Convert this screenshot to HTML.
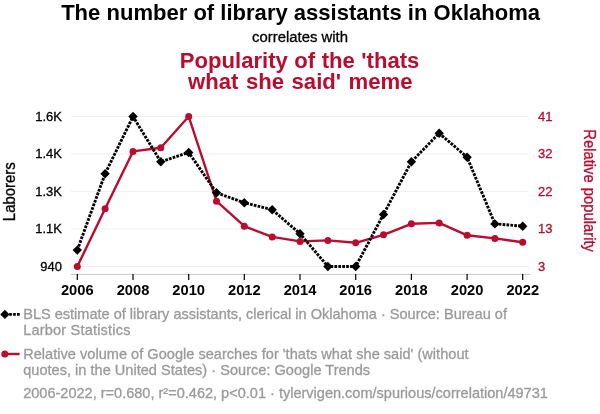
<!DOCTYPE html>
<html><head><meta charset="utf-8"><title>Spurious correlation</title>
<style>
html,body{margin:0;padding:0;background:#fff;}
svg{display:block;font-family:"Liberation Sans",Arial,Helvetica,sans-serif;}
</style></head><body>
<svg width="600" height="414" viewBox="0 0 600 414">
<rect width="600" height="414" fill="#fff"/>
<text transform="translate(300.60,19.60) scale(1,1.03)" text-anchor="middle" font-size="22.06" font-weight="bold" fill="#000">The number of library assistants in Oklahoma</text>
<text transform="translate(300.00,41.80) scale(1,1.03)" text-anchor="middle" font-size="14.9" fill="#000" stroke="#000" stroke-width="0.3">correlates with</text>
<text transform="translate(299.60,67.60) scale(1,1.03)" text-anchor="middle" font-size="22.1" font-weight="bold" fill="#ba0c2f" word-spacing="0.35">Popularity of the 'thats</text>
<text transform="translate(300.30,89.20) scale(1,1.03)" text-anchor="middle" font-size="22.15" font-weight="bold" fill="#ba0c2f" word-spacing="1.3">what she said' meme</text>
<line x1="71" x2="528" y1="116.5" y2="116.5" stroke="#efefef" stroke-width="1"/>
<line x1="71" x2="528" y1="154" y2="154" stroke="#efefef" stroke-width="1"/>
<line x1="71" x2="528" y1="191.5" y2="191.5" stroke="#efefef" stroke-width="1"/>
<line x1="71" x2="528" y1="229" y2="229" stroke="#efefef" stroke-width="1"/>
<line x1="71" x2="528" y1="266.5" y2="266.5" stroke="#efefef" stroke-width="1"/>
<line x1="70.5" x2="530.5" y1="274.4" y2="274.4" stroke="#c8c8c8" stroke-width="1"/>
<line x1="77.3" x2="77.3" y1="274" y2="280" stroke="#000" stroke-width="1.2"/>
<text transform="translate(77.30,294.90) scale(1,1.0)" text-anchor="middle" font-size="14.7" font-weight="bold" fill="#000">2006</text>
<line x1="133.0" x2="133.0" y1="274" y2="280" stroke="#000" stroke-width="1.2"/>
<text transform="translate(132.98,294.90) scale(1,1.0)" text-anchor="middle" font-size="14.7" font-weight="bold" fill="#000">2008</text>
<line x1="188.7" x2="188.7" y1="274" y2="280" stroke="#000" stroke-width="1.2"/>
<text transform="translate(188.66,294.90) scale(1,1.0)" text-anchor="middle" font-size="14.7" font-weight="bold" fill="#000">2010</text>
<line x1="244.3" x2="244.3" y1="274" y2="280" stroke="#000" stroke-width="1.2"/>
<text transform="translate(244.34,294.90) scale(1,1.0)" text-anchor="middle" font-size="14.7" font-weight="bold" fill="#000">2012</text>
<line x1="300.0" x2="300.0" y1="274" y2="280" stroke="#000" stroke-width="1.2"/>
<text transform="translate(300.02,294.90) scale(1,1.0)" text-anchor="middle" font-size="14.7" font-weight="bold" fill="#000">2014</text>
<line x1="355.7" x2="355.7" y1="274" y2="280" stroke="#000" stroke-width="1.2"/>
<text transform="translate(355.70,294.90) scale(1,1.0)" text-anchor="middle" font-size="14.7" font-weight="bold" fill="#000">2016</text>
<line x1="411.4" x2="411.4" y1="274" y2="280" stroke="#000" stroke-width="1.2"/>
<text transform="translate(411.38,294.90) scale(1,1.0)" text-anchor="middle" font-size="14.7" font-weight="bold" fill="#000">2018</text>
<line x1="467.1" x2="467.1" y1="274" y2="280" stroke="#000" stroke-width="1.2"/>
<text transform="translate(467.06,294.90) scale(1,1.0)" text-anchor="middle" font-size="14.7" font-weight="bold" fill="#000">2020</text>
<line x1="522.7" x2="522.7" y1="274" y2="280" stroke="#000" stroke-width="1.2"/>
<text transform="translate(522.74,294.90) scale(1,1.0)" text-anchor="middle" font-size="14.7" font-weight="bold" fill="#000">2022</text>
<text transform="translate(62.00,120.90) scale(1,1.0)" text-anchor="end" font-size="13" fill="#000" stroke="#000" stroke-width="0.3">1.6K</text>
<text transform="translate(62.00,158.40) scale(1,1.0)" text-anchor="end" font-size="13" fill="#000" stroke="#000" stroke-width="0.3">1.4K</text>
<text transform="translate(62.00,195.90) scale(1,1.0)" text-anchor="end" font-size="13" fill="#000" stroke="#000" stroke-width="0.3">1.3K</text>
<text transform="translate(62.00,233.40) scale(1,1.0)" text-anchor="end" font-size="13" fill="#000" stroke="#000" stroke-width="0.3">1.1K</text>
<text transform="translate(62.00,270.90) scale(1,1.0)" text-anchor="end" font-size="13" fill="#000" stroke="#000" stroke-width="0.3">940</text>
<text transform="translate(538.00,120.90) scale(1,1.0)" font-size="13" fill="#ba0c2f" stroke="#ba0c2f" stroke-width="0.3">41</text>
<text transform="translate(538.00,158.40) scale(1,1.0)" font-size="13" fill="#ba0c2f" stroke="#ba0c2f" stroke-width="0.3">32</text>
<text transform="translate(538.00,195.90) scale(1,1.0)" font-size="13" fill="#ba0c2f" stroke="#ba0c2f" stroke-width="0.3">22</text>
<text transform="translate(538.00,233.40) scale(1,1.0)" font-size="13" fill="#ba0c2f" stroke="#ba0c2f" stroke-width="0.3">13</text>
<text transform="translate(538.00,270.90) scale(1,1.0)" font-size="13" fill="#ba0c2f" stroke="#ba0c2f" stroke-width="0.3">3</text>
<text transform="translate(14.90,191.70) rotate(-90) scale(1,1.06)" text-anchor="middle" font-size="14.95" fill="#000" stroke="#000" stroke-width="0.3">Laborers</text>
<text transform="translate(584.10,190.60) rotate(90) scale(1,1.06)" text-anchor="middle" font-size="14.8" fill="#ba0c2f" stroke="#ba0c2f" stroke-width="0.3" word-spacing="1">Relative popularity</text>
<polyline points="77.3,266.5 105.1,208.8 133.0,151.4 160.8,147.8 188.7,116.5 216.5,201.2 244.3,226.2 272.2,236.9 300.0,241.4 327.9,240.4 355.7,242.8 383.5,234.8 411.4,223.8 439.2,222.9 467.1,235.3 494.9,238.4 522.7,242.2" fill="none" stroke="#ba0c2f" stroke-width="2.4" stroke-linejoin="round"/>
<circle cx="77.3" cy="266.5" r="3.5" fill="#ba0c2f"/>
<circle cx="105.1" cy="208.8" r="3.5" fill="#ba0c2f"/>
<circle cx="133.0" cy="151.4" r="3.5" fill="#ba0c2f"/>
<circle cx="160.8" cy="147.8" r="3.5" fill="#ba0c2f"/>
<circle cx="188.7" cy="116.5" r="3.5" fill="#ba0c2f"/>
<circle cx="216.5" cy="201.2" r="3.5" fill="#ba0c2f"/>
<circle cx="244.3" cy="226.2" r="3.5" fill="#ba0c2f"/>
<circle cx="272.2" cy="236.9" r="3.5" fill="#ba0c2f"/>
<circle cx="300.0" cy="241.4" r="3.5" fill="#ba0c2f"/>
<circle cx="327.9" cy="240.4" r="3.5" fill="#ba0c2f"/>
<circle cx="355.7" cy="242.8" r="3.5" fill="#ba0c2f"/>
<circle cx="383.5" cy="234.8" r="3.5" fill="#ba0c2f"/>
<circle cx="411.4" cy="223.8" r="3.5" fill="#ba0c2f"/>
<circle cx="439.2" cy="222.9" r="3.5" fill="#ba0c2f"/>
<circle cx="467.1" cy="235.3" r="3.5" fill="#ba0c2f"/>
<circle cx="494.9" cy="238.4" r="3.5" fill="#ba0c2f"/>
<circle cx="522.7" cy="242.2" r="3.5" fill="#ba0c2f"/>
<polyline points="77.3,250.1 105.1,173.8 133.0,116.5 160.8,161.8 188.7,152.4 216.5,192.8 244.3,202.7 272.2,209.7 300.0,233.7 327.9,266.5 355.7,266.5 383.5,214.4 411.4,161.8 439.2,133.2 467.1,157.2 494.9,223.8 522.7,226.2" fill="none" stroke="#000" stroke-width="2.9" stroke-dasharray="2.7 1.2" stroke-linejoin="round"/>
<path d="M77.3,245.4l4.7,4.7l-4.7,4.7l-4.7,-4.7z" fill="#000"/>
<path d="M105.1,169.1l4.7,4.7l-4.7,4.7l-4.7,-4.7z" fill="#000"/>
<path d="M133.0,111.8l4.7,4.7l-4.7,4.7l-4.7,-4.7z" fill="#000"/>
<path d="M160.8,157.1l4.7,4.7l-4.7,4.7l-4.7,-4.7z" fill="#000"/>
<path d="M188.7,147.8l4.7,4.7l-4.7,4.7l-4.7,-4.7z" fill="#000"/>
<path d="M216.5,188.1l4.7,4.7l-4.7,4.7l-4.7,-4.7z" fill="#000"/>
<path d="M244.3,198.0l4.7,4.7l-4.7,4.7l-4.7,-4.7z" fill="#000"/>
<path d="M272.2,205.0l4.7,4.7l-4.7,4.7l-4.7,-4.7z" fill="#000"/>
<path d="M300.0,229.0l4.7,4.7l-4.7,4.7l-4.7,-4.7z" fill="#000"/>
<path d="M327.9,261.8l4.7,4.7l-4.7,4.7l-4.7,-4.7z" fill="#000"/>
<path d="M355.7,261.8l4.7,4.7l-4.7,4.7l-4.7,-4.7z" fill="#000"/>
<path d="M383.5,209.8l4.7,4.7l-4.7,4.7l-4.7,-4.7z" fill="#000"/>
<path d="M411.4,157.1l4.7,4.7l-4.7,4.7l-4.7,-4.7z" fill="#000"/>
<path d="M439.2,128.6l4.7,4.7l-4.7,4.7l-4.7,-4.7z" fill="#000"/>
<path d="M467.1,152.6l4.7,4.7l-4.7,4.7l-4.7,-4.7z" fill="#000"/>
<path d="M494.9,219.2l4.7,4.7l-4.7,4.7l-4.7,-4.7z" fill="#000"/>
<path d="M522.7,221.5l4.7,4.7l-4.7,4.7l-4.7,-4.7z" fill="#000"/>
<line x1="5.3" x2="19.7" y1="314.4" y2="314.4" stroke="#000" stroke-width="2.9" stroke-dasharray="2.7 1.2"/>
<path d="M4.9,309.7l4.7,4.7l-4.7,4.7l-4.7,-4.7z" fill="#000"/>
<line x1="5" x2="19.6" y1="354" y2="354" stroke="#ba0c2f" stroke-width="2.4"/>
<circle cx="4.8" cy="354" r="3.5" fill="#ba0c2f"/>
<text transform="translate(23.20,318.80) scale(1,1.03)" font-size="14.55" fill="#9a9a9a" stroke="#9a9a9a" stroke-width="0.3" letter-spacing="0">BLS estimate of library assistants, clerical in Oklahoma · Source: Bureau of</text>
<text transform="translate(23.20,334.60) scale(1,1.03)" font-size="14.55" fill="#9a9a9a" stroke="#9a9a9a" stroke-width="0.3" letter-spacing="0.19">Larbor Statistics</text>
<text transform="translate(23.20,359.10) scale(1,1.03)" font-size="14.55" fill="#9a9a9a" stroke="#9a9a9a" stroke-width="0.3" letter-spacing="0.03">Relative volume of Google searches for 'thats what she said' (without</text>
<text transform="translate(23.20,374.90) scale(1,1.03)" font-size="14.55" fill="#9a9a9a" stroke="#9a9a9a" stroke-width="0.3" letter-spacing="0.023">quotes, in the United States) · Source: Google Trends</text>
<text transform="translate(23.20,397.70) scale(1,1.03)" font-size="14.55" fill="#9a9a9a" stroke="#9a9a9a" stroke-width="0.3" letter-spacing="0">2006-2022, r=0.680, r²=0.462, p&lt;0.01 · tylervigen.com/spurious/correlation/49731</text>
</svg></body></html>
